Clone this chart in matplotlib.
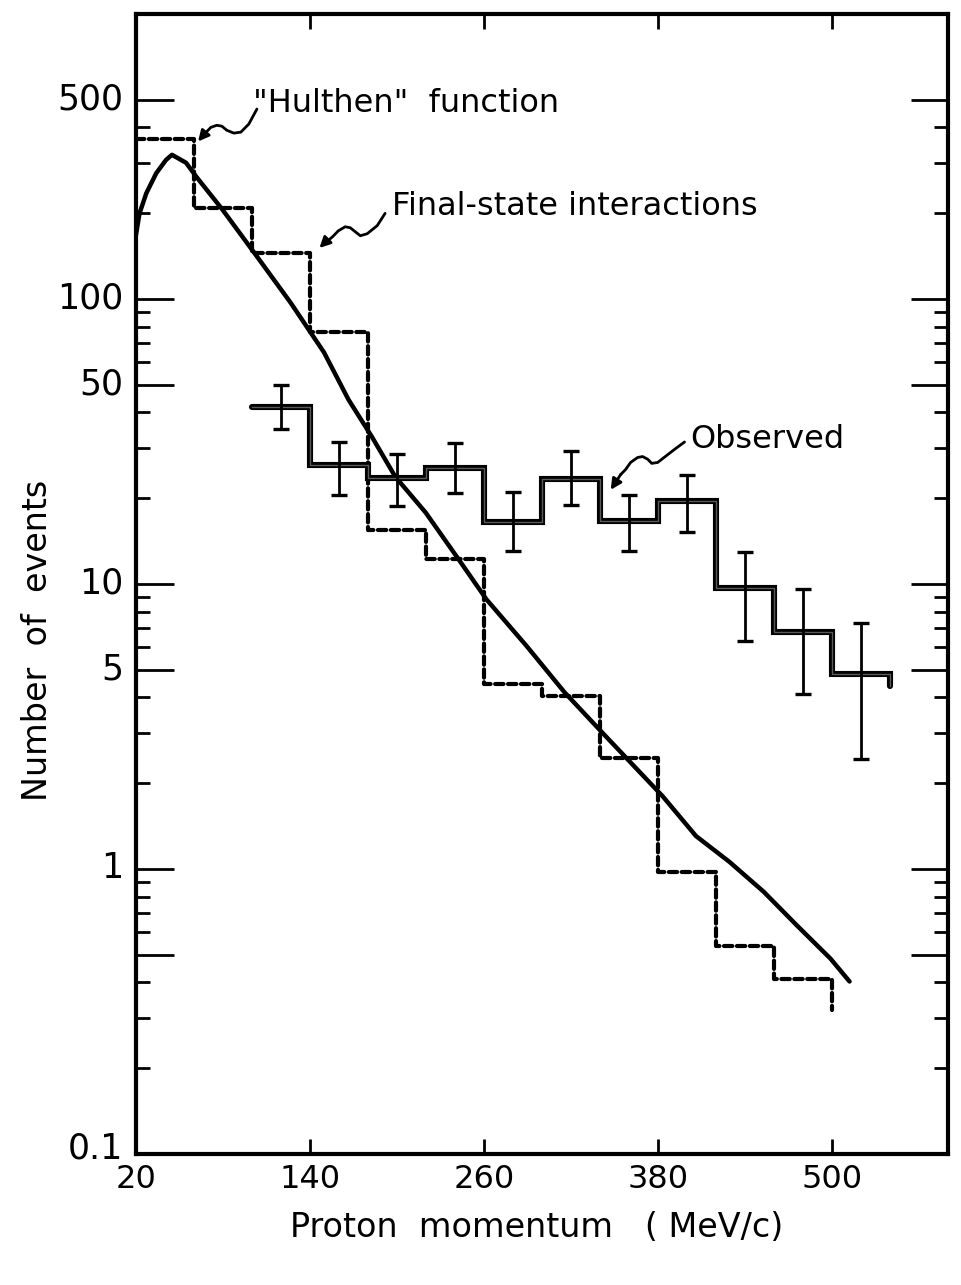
import numpy as np
import matplotlib
matplotlib.use("Agg")
import matplotlib.pyplot as plt
import matplotlib.transforms as mtransforms
from matplotlib.ticker import FixedLocator, FixedFormatter, NullFormatter

# ---- observed spectrum (40 MeV/c bins) ----
obs_edges = [100, 140, 180, 220, 260, 300, 340, 380, 420, 460, 500, 540]
obs_counts = [41.7, 26.1, 23.6, 25.5, 16.5, 23.3, 16.7, 19.5, 9.7, 6.8, 4.85]
obs_upper = [49.9, 31.5, 28.7, 31.2, 21.1, 29.2, 20.6, 24.1, 12.9, 9.6, 7.3]
obs_lower = [34.9, 20.5, 18.8, 20.8, 13.05, 18.9, 13.05, 15.2, 6.3, 4.1, 2.43]
obs_tail = 4.4

# ---- final-state-interaction prediction (dashed histogram) ----
fsi_edges = [20, 60, 100, 140, 180, 220, 260, 300, 340, 380, 420, 460, 500]
fsi_counts = [365, 209, 144.5, 76.3, 15.5, 12.2, 4.45, 4.04, 2.45, 0.98, 0.536, 0.41]
fsi_tail = 0.32

# ---- "Hulthen" function curve ----
hul_p = [20, 22.4, 27.1, 33.9, 40.7, 44.8, 54.5, 61.6, 79.7, 103.5, 126.6,
         149.7, 166.5, 182.6, 198.8, 219.8, 243.5, 261.7, 289.6, 315.5,
         341.3, 383.2, 406.2, 429.2, 452.9, 475.9, 498.9, 512.1]
hul_n = [168, 199.5, 235, 276, 307.6, 320.6, 300.7, 268.5, 205.7, 140.8, 97.1,
         64.9, 44.4, 32.9, 23.8, 17.8, 12.0, 8.83, 6.04, 4.17,
         3.02, 1.80, 1.305, 1.06, 0.832, 0.633, 0.485, 0.403]

# ---- axis ticks ----
x_ticks = [20, 140, 260, 380, 500]
x_ticklabels = ["20", "140", "260", "380", "500"]
y_major = [0.1, 0.5, 1, 5, 10, 50, 100, 500]
y_major_labels = ["0.1", "", "1", "5", "10", "50", "100", "500"]
y_minor = [0.2, 0.3, 0.4, 0.6, 0.7, 0.8, 0.9, 2, 3, 4, 6, 7, 8, 9,
           20, 30, 40, 60, 70, 80, 90, 200, 300, 400]

plt.rcParams['font.family'] = ['DejaVu Sans']

fig = plt.figure(figsize=(9.62, 12.85), dpi=100)
ax = fig.add_axes([136 / 962, 131 / 1285, 812 / 962, 1140 / 1285])
ax.set_yscale('log')
ax.set_xlim(20, 580)
ax.set_ylim(0.1, 1000)


def step_path(edges, values, tail):
    xs = list(np.repeat(edges, 2)[1:-1]) + [edges[-1]]
    ys = list(np.repeat(values, 2)) + [tail]
    return xs, ys


# dashed histogram
fx, fy = step_path(fsi_edges, fsi_counts, fsi_tail)
ax.plot(fx, fy, color='black', lw=3.0, dashes=(2.0, 1.1),
        dash_capstyle='round', zorder=3)

# smooth curve
ax.plot(hul_p, hul_n, color='black', lw=3.2, solid_capstyle='round',
        solid_joinstyle='round', zorder=4)

# observed histogram with error bars
ox, oy = step_path(obs_edges, obs_counts, obs_tail)
ax.plot(ox, oy, color='black', lw=4.4, solid_joinstyle='miter',
        solid_capstyle='round', zorder=5)
ax.plot(ox, oy, color='#5a5a5a', lw=1.0, zorder=6)
centers = [(a + b) / 2 for a, b in zip(obs_edges[:-1], obs_edges[1:])]
yerr = [np.array(obs_counts) - np.array(obs_lower),
        np.array(obs_upper) - np.array(obs_counts)]
ax.errorbar(centers, obs_counts, yerr=yerr, fmt='none', ecolor='black',
            elinewidth=2.0, capsize=6, capthick=2.4, zorder=7)

# annotations with hand-drawn style leader arrows
text_kw = dict(fontsize=23, color='black', va='baseline', ha='left')
ax.text(101, 452, '"Hulthen"  function', **text_kw)
ax.text(196.5, 197, 'Final-state interactions', **text_kw)
ax.text(402, 30.0, 'Observed', **text_kw)

leaders = [
    ([103.4, 97.8, 92.3, 87.5, 82.6, 79.2, 75.7, 71.6, 66.9, 62.8],
     [464, 411, 385, 382, 391, 404, 407, 400, 378, 357]),
    ([191.8, 186.4, 179.5, 174.7, 171.2, 167.8, 164.3, 159.5, 155.4, 149.3, 146.5],
     [199.8, 181, 169.5, 166.7, 172.2, 177.8, 179.3, 173.4, 165, 156, 151]),
    ([398.3, 391.5, 384.6, 379.8, 375.7, 372.9, 369.4, 366, 361.1, 357.6, 354.2, 347.4],
     [31.5, 29.7, 27.9, 26.7, 26.5, 27.4, 28.0, 27.8, 26.7, 25.2, 24.2, 21.4]),
]
for lx, ly in leaders:
    ax.plot(lx[:-1], ly[:-1], color='black', lw=2.0, solid_capstyle='round',
            solid_joinstyle='round', zorder=8)
    ax.annotate('', xy=(lx[-1], ly[-1]), xytext=(lx[-2], ly[-2]),
                arrowprops=dict(arrowstyle='-|>', color='black', lw=2.0,
                                mutation_scale=16, shrinkA=0, shrinkB=0),
                zorder=8)

# axes styling
for sp in ax.spines.values():
    sp.set_linewidth(3.0)

ax.xaxis.set_major_locator(FixedLocator(x_ticks))
ax.xaxis.set_major_formatter(FixedFormatter(x_ticklabels))
ax.xaxis.set_minor_locator(FixedLocator([]))
ax.yaxis.set_major_locator(FixedLocator(y_major))
ax.yaxis.set_major_formatter(FixedFormatter(y_major_labels))
ax.yaxis.set_minor_locator(FixedLocator(y_minor))
ax.yaxis.set_minor_formatter(NullFormatter())

ax.tick_params(axis='x', which='major', direction='in', length=11, width=2,
               top=True, bottom=True, labelsize=23, pad=7)
ax.tick_params(axis='y', which='major', direction='in', length=27, width=2,
               left=True, right=True, labelsize=25, pad=9)
ax.tick_params(axis='y', which='minor', direction='in', length=10, width=2,
               left=True, right=True)

# lift the value labels slightly above their ticks (the corner one a bit more)
for lbl, val in zip(ax.get_yticklabels(), y_major):
    dy = 9 if val == y_major[0] else 4
    lift = mtransforms.ScaledTranslation(0, dy / 100, fig.dpi_scale_trans)
    lbl.set_transform(lbl.get_transform() + lift)

fig.text(38 / 962, 1 - 640 / 1285, 'Number  of  events', rotation=90,
         ha='center', va='center', fontsize=24)
fig.text(537 / 962, 1 - 1237 / 1285, 'Proton  momentum   ( MeV/c)',
         ha='center', va='baseline', fontsize=24)

fig.savefig('out.png', dpi=100, facecolor='white')
